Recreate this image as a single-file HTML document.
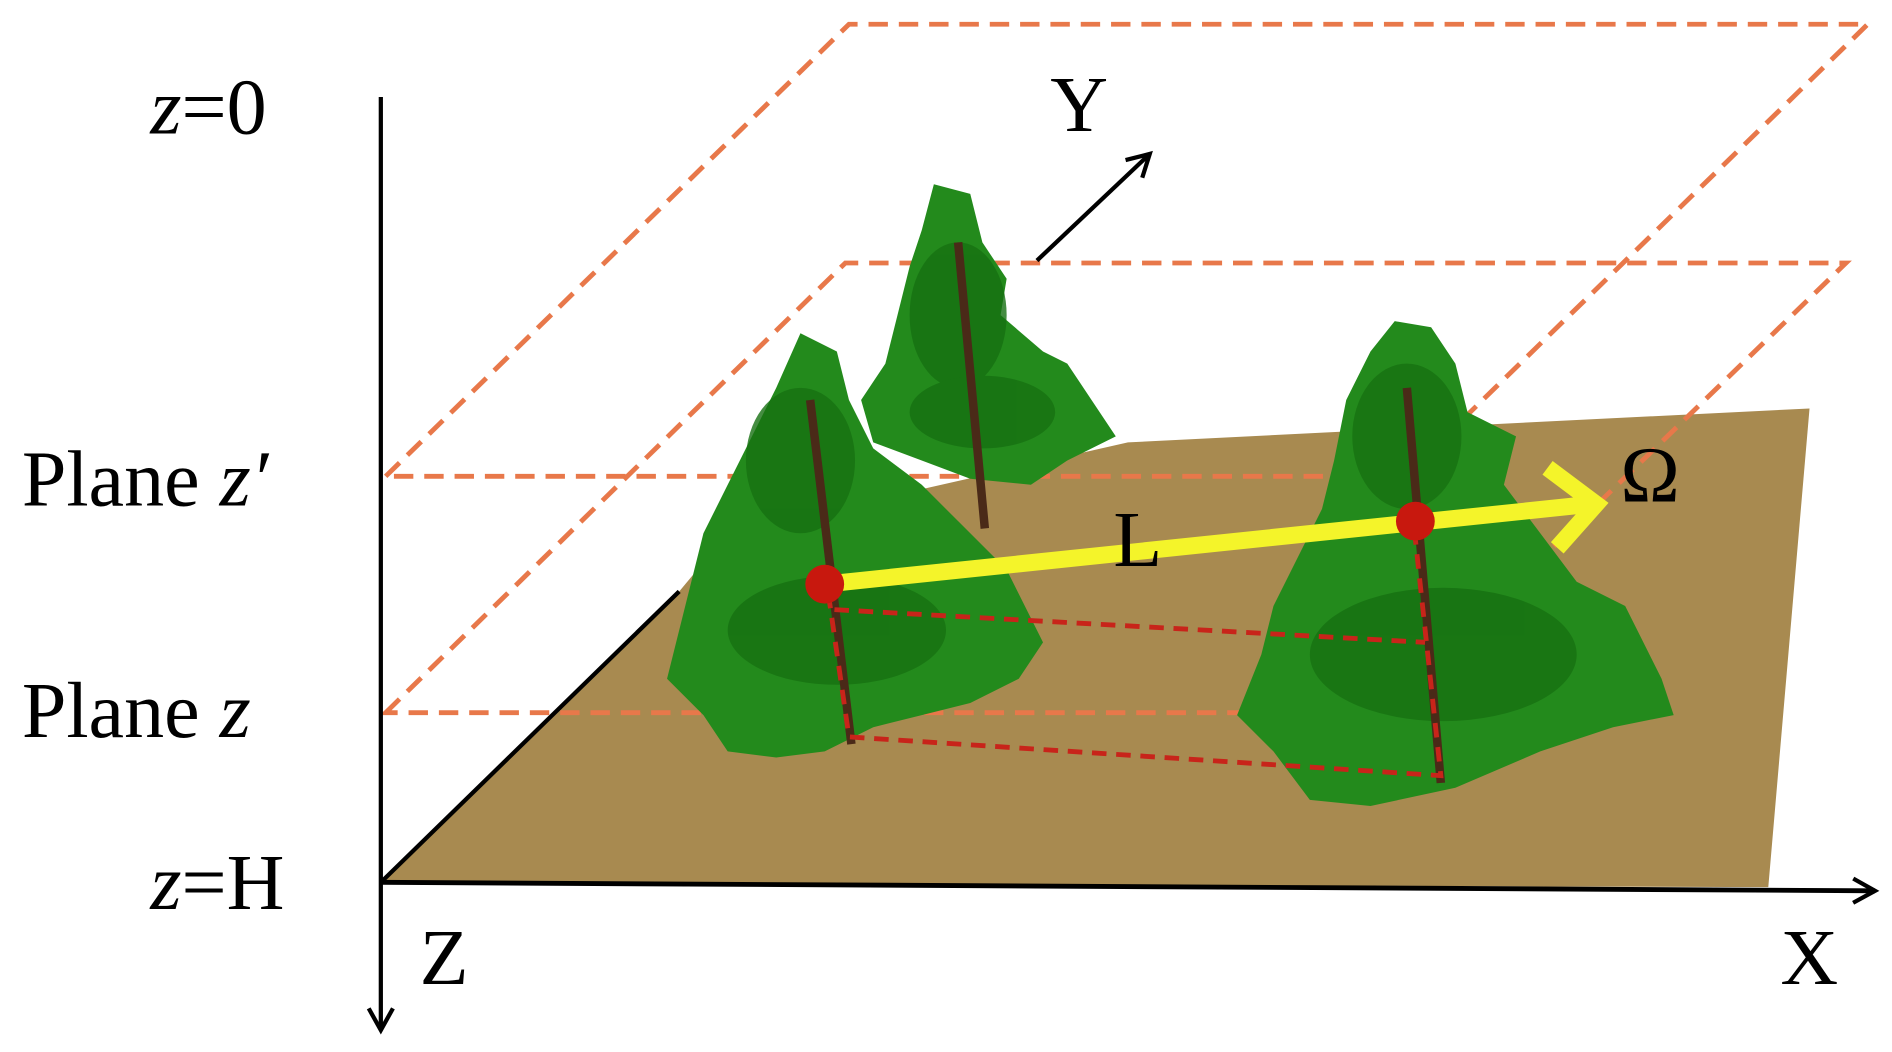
<!DOCTYPE html>
<html><head><meta charset="utf-8"><style>
html,body{margin:0;padding:0;background:#fff;}
svg{display:block}
text{font-family:"Liberation Serif",serif;fill:#000}
</style></head><body>
<svg width="1892" height="1052" viewBox="0 0 1560 868" preserveAspectRatio="none" xmlns="http://www.w3.org/2000/svg">
<defs>
<marker id="ah2" markerWidth="24" markerHeight="24" refX="20" refY="12" orient="auto" markerUnits="userSpaceOnUse">
<path d="M2,2 L20,12 L2,22" fill="none" stroke="#000" stroke-width="3.5"/>
</marker>
</defs>
<polygon points="314,728 560,488 600,440 930,365 1492,337 1458,732" fill="#a88a50"/>
<line x1="314" y1="728" x2="560" y2="488" stroke="#000" stroke-width="3.5"/>
<g fill="none" stroke="#e8784a" stroke-width="4" stroke-dasharray="16,9">
<polygon points="318,393 700,20 1540,20 1158,393"/>
<polygon points="318,588 697,217 1522,217 1140,588"/>
</g>
<g>
<g fill="#238a1c">
<polygon points="770,152 800,160 810,200 830,230 825,260 860,290 880,300 900,330 920,360 880,380 850,400 800,395 760,380 720,365 710,330 730,300 740,260 750,220 760,190"/>
<polygon points="660,275 690,290 700,330 720,370 760,400 790,430 830,470 860,530 840,560 800,580 760,590 720,600 680,620 640,625 600,620 580,590 550,560 560,520 570,480 580,440 600,400 620,360 640,320"/>
<polygon points="1150,265 1180,270 1200,300 1210,340 1250,360 1240,400 1270,440 1300,480 1340,500 1370,560 1380,590 1330,600 1270,620 1200,650 1130,665 1080,660 1050,620 1020,590 1040,540 1050,500 1070,460 1090,420 1100,380 1110,330 1130,290"/>
</g>
<g fill="#167012" opacity="0.8">
<ellipse cx="790" cy="260" rx="40" ry="60"/>
<ellipse cx="810" cy="340" rx="60" ry="30"/>
<ellipse cx="660" cy="380" rx="45" ry="60"/>
<ellipse cx="690" cy="520" rx="90" ry="45"/>
<ellipse cx="1160" cy="360" rx="45" ry="60"/>
<ellipse cx="1190" cy="540" rx="110" ry="55"/>
</g>
<g stroke="#4a2a18" stroke-width="7" fill="none">
<line x1="790" y1="200" x2="812" y2="436"/>
<line x1="668" y1="330" x2="702" y2="614"/>
<line x1="1160" y1="320" x2="1188" y2="646"/>
</g>
</g>
<g fill="none" stroke="#c8241a" stroke-width="4" stroke-dasharray="12,8">
<polyline points="683,490 700,608 1188,640 1167,445"/>
<line x1="688" y1="503" x2="1175" y2="530"/>
</g>
<line x1="314" y1="80" x2="314" y2="850" stroke="#000" stroke-width="3.5" marker-end="url(#ah2)"/>
<line x1="314" y1="728" x2="1546" y2="735" stroke="#000" stroke-width="4" marker-end="url(#ah2)"/>
<line x1="855" y1="215" x2="948" y2="127" stroke="#000" stroke-width="3.5" marker-end="url(#ah2)"/>
<line x1="680" y1="482" x2="1312" y2="416" stroke="#f4f42a" stroke-width="14"/>
<polyline points="1276,386 1316,416 1284,452" fill="none" stroke="#f4f42a" stroke-width="14"/>
<circle cx="680" cy="482" r="16" fill="#c8180e"/>
<circle cx="1167" cy="430" r="16" fill="#c8180e"/>
<g font-size="66">
<text x="124" y="110"><tspan font-style="italic">z</tspan>=0</text>
<text x="18" y="417">Plane <tspan font-style="italic">z′</tspan></text>
<text x="18" y="608">Plane <tspan font-style="italic">z</tspan></text>
<text x="124" y="750"><tspan font-style="italic">z</tspan>=H</text>
<text x="346" y="812">Z</text>
<text x="1468" y="812">X</text>
<text x="866" y="108">Y</text>
<text x="918" y="467">L</text>
<text x="1336" y="414">Ω</text>
</g>
</svg>
</body></html>
